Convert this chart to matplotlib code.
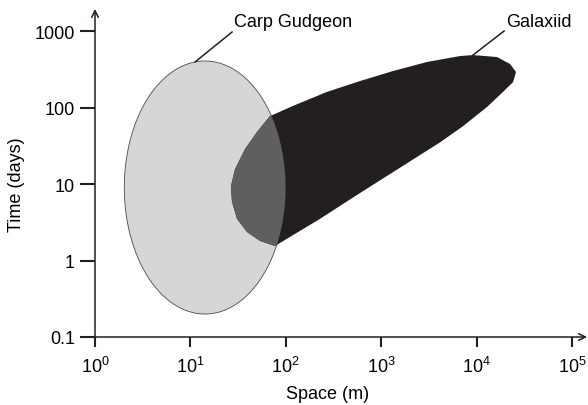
import numpy as np
import matplotlib.pyplot as plt
from matplotlib.path import Path
from matplotlib.patches import PathPatch

plt.rcParams['font.family'] = ['Liberation Sans', 'DejaVu Sans']
plt.rcParams['font.size'] = 13

# Carp Gudgeon: ellipse in log-log space (centre in m / days, half-axes in decades)
carp_centre = (14.2, 9.0)
carp_half_decades = (0.845, 1.654)

# Galaxiid outline (space m, time days), clockwise
gal_x = [68, 119, 270, 600, 1330, 3020, 6700, 9160, 16370, 22400, 25900, 24100,
         18900, 12900, 7200, 4130, 740, 482, 228, 77,
         53.7, 39.2, 30.8, 27.3, 26.6, 29.4, 37.4, 49.9]
gal_y = [77, 105, 160, 222, 300, 394, 471, 485, 457, 371, 291, 215,
         160, 102, 57, 35, 9.0, 6.4, 3.5, 1.55,
         1.80, 2.36, 3.5, 5.8, 9.4, 15.7, 28.7, 47.9]

x_ticks = [1, 10, 100, 1000, 10000, 100000]
x_labels = [r'$\mathregular{10^{%d}}$' % i for i in range(6)]
y_ticks = [0.1, 1, 10, 100, 1000]
y_labels = ['0.1', '1', '10', '100', '1000']

fig = plt.figure(figsize=(5.88, 4.06), dpi=100)
ax = fig.add_axes([95 / 588, 68 / 406, 492 / 588, 328 / 406])
ax.set_xscale('log')
ax.set_yscale('log')
ax.set_xlim(1, 10 ** 5.157)
ax.set_ylim(0.1, 10 ** 3.288)

# ellipse
t = np.linspace(0, 2 * np.pi, 300)
ex = 10 ** (np.log10(carp_centre[0]) + carp_half_decades[0] * np.cos(t))
ey = 10 ** (np.log10(carp_centre[1]) + carp_half_decades[1] * np.sin(t))
ell = ax.fill(ex, ey, facecolor='#d5d6d8', edgecolor='#4a4a4a', lw=0.6, zorder=2)[0]

# galaxiid
verts = list(zip(gal_x, gal_y)) + [(gal_x[0], gal_y[0])]
codes = [Path.MOVETO] + [Path.LINETO] * (len(gal_x) - 1) + [Path.CLOSEPOLY]
gpath = Path(verts, codes)
ax.add_patch(PathPatch(gpath, facecolor='#231f20', edgecolor='none', zorder=3))
over = PathPatch(gpath, facecolor='#5f5f61', edgecolor='none', zorder=4)
ax.add_patch(over)
over.set_clip_path(ell)

# labels with leader lines
ax.plot([11.2, 27.3], [394, 970], color='#231f20', lw=1.1, zorder=5)
ax.text(28.5, 1350, 'Carp Gudgeon', ha='left', va='center', zorder=5)
ax.plot([9160, 19400], [485, 1000], color='#231f20', lw=1.1, zorder=5)
ax.text(20500, 1350, 'Galaxiid', ha='left', va='center', zorder=5)

# axes with arrow heads
for s in ['top', 'right', 'left', 'bottom']:
    ax.spines[s].set_visible(False)
ax.annotate('', xy=(1.0, 0), xytext=(0, 0), xycoords='axes fraction',
            arrowprops=dict(arrowstyle='->', lw=1.1, color='#231f20',
                            shrinkA=0, shrinkB=0, mutation_scale=12))
ax.annotate('', xy=(0, 1.0), xytext=(0, 0), xycoords='axes fraction',
            arrowprops=dict(arrowstyle='->', lw=1.1, color='#231f20',
                            shrinkA=0, shrinkB=0, mutation_scale=12))

ax.set_xticks(x_ticks)
ax.set_xticklabels(x_labels)
ax.set_yticks(y_ticks)
ax.set_yticklabels(y_labels)
ax.minorticks_off()
ax.tick_params(axis='x', direction='out', length=7, width=1.5, color='#231f20', pad=6.5)
ax.tick_params(axis='y', direction='out', length=10.5, width=1.5, color='#231f20', pad=4)

fig.text(328 / 588, 1 - 395 / 406, 'Space (m)', ha='center', va='center')
fig.text(17 / 588, 1 - 185 / 406, 'Time (days)', ha='center', va='center', rotation=90)

fig.savefig('out.png', dpi=100)
